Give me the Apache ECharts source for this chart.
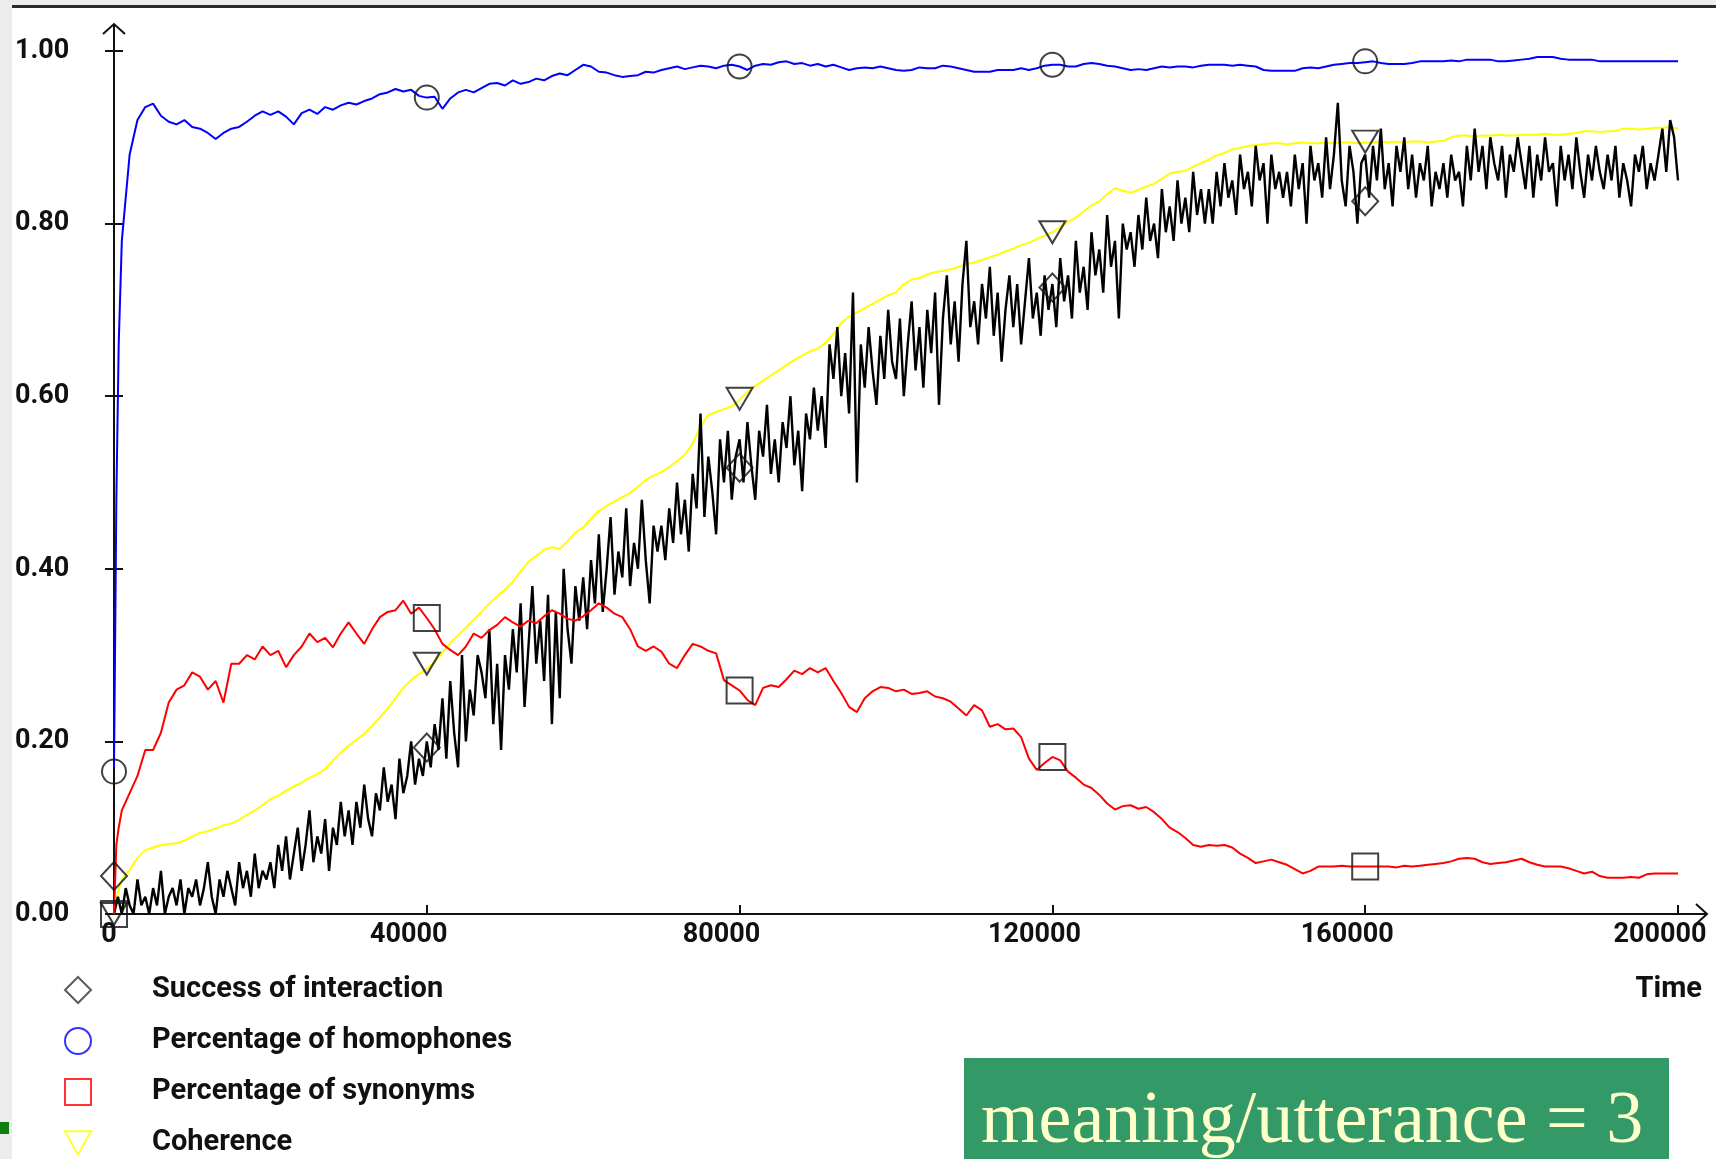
<!DOCTYPE html>
<html><head><meta charset="utf-8">
<script src="https://cdn.jsdelivr.net/npm/echarts@6/dist/echarts.min.js"></script>
<style>
html,body{margin:0;padding:0;background:#ececec;overflow:hidden;}
#bgw{position:absolute;left:12px;top:8px;width:1704px;height:1151px;background:#fff;}
#topline{position:absolute;left:12px;top:5px;width:1704px;height:3px;background:#2b2b2b;}
#chart{position:absolute;left:0;top:0;width:1716px;height:1159px;}
</style></head><body>
<div id="bgw"></div><div id="topline"></div><div id="chart"></div>
<script>
// ---------- DATA ----------
const seriesNames = ['Success of interaction','Percentage of homophones','Percentage of synonyms','Coherence'];
const xTickLabels = ['0','40000','80000','120000','160000','200000'];
const yTickLabels = ['0.00','0.20','0.40','0.60','0.80','1.00'];

// Success of interaction: one sample every 500 time steps, from 0 to 200000
const successStep = 500;
const successValues = [
0.00,0.02,0.00,0.03,0.01,0.00,0.04,0.01,0.02,0.00,0.03,0.01,0.05,0.00,0.02,0.03,0.01,0.04,0.00,0.03,
0.02,0.04,0.01,0.03,0.06,0.02,0.00,0.04,0.02,0.05,0.03,0.01,0.06,0.03,0.05,0.02,0.07,0.03,0.05,0.04,
0.06,0.03,0.08,0.05,0.09,0.04,0.07,0.10,0.05,0.08,0.12,0.06,0.09,0.07,0.11,0.05,0.10,0.08,0.13,0.09,
0.12,0.08,0.13,0.10,0.15,0.11,0.09,0.14,0.12,0.17,0.13,0.15,0.11,0.18,0.14,0.16,0.20,0.15,0.18,0.16,
0.20,0.17,0.22,0.19,0.25,0.18,0.27,0.21,0.17,0.30,0.20,0.26,0.23,0.30,0.28,0.25,0.33,0.22,0.29,0.19,
0.30,0.26,0.33,0.28,0.36,0.24,0.31,0.38,0.29,0.34,0.27,0.37,0.22,0.35,0.25,0.40,0.33,0.29,0.38,0.34,
0.39,0.33,0.41,0.36,0.44,0.35,0.40,0.46,0.37,0.42,0.39,0.47,0.38,0.43,0.40,0.48,0.41,0.36,0.45,0.42,
0.45,0.41,0.47,0.43,0.50,0.44,0.48,0.42,0.51,0.47,0.58,0.46,0.53,0.49,0.44,0.55,0.50,0.56,0.48,0.53,
0.55,0.50,0.57,0.52,0.48,0.56,0.53,0.59,0.51,0.55,0.50,0.57,0.54,0.60,0.52,0.56,0.49,0.58,0.55,0.61,
0.56,0.60,0.54,0.66,0.62,0.68,0.60,0.65,0.58,0.72,0.50,0.66,0.61,0.68,0.63,0.59,0.67,0.62,0.70,0.64,
0.62,0.69,0.60,0.66,0.71,0.63,0.68,0.61,0.70,0.65,0.72,0.59,0.69,0.74,0.66,0.71,0.64,0.73,0.78,0.68,
0.71,0.66,0.73,0.69,0.75,0.67,0.72,0.64,0.70,0.74,0.68,0.73,0.66,0.71,0.76,0.69,0.72,0.67,0.74,0.70,
0.73,0.68,0.76,0.71,0.74,0.69,0.78,0.72,0.75,0.70,0.79,0.74,0.77,0.72,0.81,0.75,0.78,0.69,0.80,0.77,
0.79,0.75,0.81,0.77,0.83,0.78,0.80,0.76,0.84,0.79,0.82,0.78,0.85,0.80,0.83,0.79,0.86,0.81,0.84,0.80,
0.84,0.80,0.86,0.82,0.87,0.83,0.85,0.81,0.88,0.84,0.86,0.82,0.89,0.85,0.87,0.80,0.88,0.84,0.86,0.83,
0.86,0.82,0.88,0.84,0.87,0.80,0.89,0.85,0.87,0.83,0.90,0.84,0.88,0.94,0.85,0.82,0.89,0.86,0.80,0.87,
0.88,0.83,0.89,0.85,0.91,0.84,0.87,0.82,0.89,0.86,0.90,0.84,0.88,0.83,0.87,0.85,0.89,0.82,0.86,0.84,
0.87,0.83,0.88,0.85,0.86,0.82,0.89,0.85,0.91,0.86,0.89,0.84,0.90,0.87,0.85,0.89,0.83,0.88,0.86,0.90,
0.87,0.84,0.89,0.83,0.88,0.85,0.90,0.86,0.87,0.82,0.89,0.85,0.88,0.84,0.90,0.86,0.83,0.88,0.85,0.89,
0.86,0.84,0.88,0.85,0.89,0.83,0.87,0.85,0.82,0.88,0.86,0.89,0.84,0.87,0.85,0.88,0.91,0.86,0.92,0.90,
0.85];

// Other curves: a few early samples, then one sample every 1000 steps (1000 .. 200000)
const curveStep = 1000;
const homophonesEarlyTime = [0, 150, 300, 600];
const homophonesEarly = [0.17, 0.32, 0.48, 0.66];
const homophonesValues = [
0.78,0.88,0.92,0.935,0.939,0.925,0.918,0.915,0.92,0.912,0.91,0.905,0.898,0.905,0.91,0.912,0.918,0.925,0.93,0.926,
0.93,0.924,0.915,0.928,0.932,0.927,0.935,0.932,0.937,0.94,0.938,0.942,0.945,0.95,0.952,0.956,0.953,0.955,0.948,0.946,
0.947,0.933,0.945,0.952,0.955,0.952,0.957,0.962,0.963,0.96,0.966,0.962,0.964,0.968,0.966,0.971,0.974,0.972,0.978,0.984,
0.982,0.976,0.975,0.972,0.97,0.971,0.972,0.976,0.975,0.978,0.98,0.982,0.979,0.981,0.983,0.982,0.98,0.983,0.984,0.982,
0.978,0.983,0.985,0.984,0.987,0.988,0.985,0.986,0.983,0.985,0.982,0.984,0.981,0.978,0.98,0.981,0.98,0.982,0.98,0.978,
0.977,0.978,0.981,0.98,0.98,0.983,0.982,0.98,0.978,0.976,0.976,0.976,0.978,0.978,0.978,0.98,0.978,0.98,0.983,0.984,
0.984,0.982,0.982,0.985,0.986,0.985,0.983,0.982,0.98,0.978,0.979,0.978,0.98,0.982,0.981,0.982,0.982,0.981,0.983,0.984,
0.984,0.984,0.983,0.984,0.983,0.982,0.978,0.977,0.977,0.977,0.977,0.98,0.981,0.98,0.982,0.984,0.985,0.986,0.986,0.987,
0.988,0.986,0.985,0.985,0.985,0.986,0.988,0.988,0.988,0.988,0.989,0.988,0.99,0.99,0.99,0.99,0.988,0.988,0.989,0.99,
0.991,0.993,0.993,0.993,0.991,0.99,0.99,0.99,0.99,0.988,0.988,0.988,0.988,0.988,0.988,0.988,0.988,0.988,0.988,0.988];

const synonymsEarlyTime = [0, 300, 600];
const synonymsEarly = [0.0, 0.08, 0.10];
const synonymsValues = [
0.12,0.14,0.16,0.19,0.19,0.21,0.245,0.26,0.265,0.28,0.275,0.26,0.27,0.245,0.29,0.29,0.30,0.295,0.31,0.30,
0.305,0.286,0.30,0.31,0.325,0.315,0.32,0.309,0.325,0.338,0.325,0.313,0.33,0.344,0.35,0.352,0.363,0.348,0.355,0.343,
0.33,0.313,0.306,0.30,0.31,0.325,0.32,0.329,0.335,0.344,0.338,0.333,0.34,0.337,0.345,0.352,0.348,0.342,0.34,0.345,
0.352,0.36,0.355,0.348,0.344,0.33,0.31,0.305,0.31,0.304,0.29,0.285,0.30,0.313,0.31,0.305,0.302,0.271,0.265,0.259,
0.248,0.242,0.262,0.265,0.263,0.272,0.282,0.278,0.285,0.28,0.285,0.27,0.256,0.24,0.234,0.25,0.258,0.263,0.262,0.258,
0.26,0.255,0.256,0.258,0.252,0.25,0.246,0.238,0.23,0.242,0.236,0.217,0.22,0.214,0.215,0.205,0.18,0.167,0.175,0.182,
0.178,0.165,0.158,0.15,0.146,0.138,0.128,0.121,0.125,0.126,0.122,0.124,0.118,0.11,0.10,0.095,0.088,0.08,0.078,0.08,
0.079,0.08,0.077,0.07,0.065,0.059,0.061,0.063,0.06,0.057,0.052,0.047,0.05,0.055,0.055,0.055,0.056,0.055,0.055,0.055,
0.055,0.055,0.055,0.054,0.056,0.055,0.056,0.057,0.058,0.059,0.061,0.064,0.065,0.064,0.06,0.058,0.059,0.06,0.062,0.064,
0.06,0.057,0.055,0.055,0.055,0.053,0.05,0.047,0.049,0.044,0.042,0.042,0.042,0.043,0.042,0.046,0.047,0.047,0.047,0.047];

const coherenceEarlyTime = [0, 500];
const coherenceEarly = [0.0, 0.025];
const coherenceValues = [
0.04,0.051,0.065,0.074,0.077,0.08,0.081,0.082,0.085,0.09,0.094,0.096,0.099,0.103,0.105,0.109,0.115,0.12,0.126,0.133,
0.137,0.143,0.148,0.152,0.158,0.162,0.168,0.178,0.187,0.195,0.202,0.209,0.218,0.228,0.238,0.25,0.262,0.271,0.278,0.284,
0.292,0.303,0.314,0.323,0.332,0.341,0.35,0.36,0.368,0.376,0.385,0.397,0.408,0.415,0.422,0.425,0.423,0.432,0.442,0.448,
0.458,0.467,0.473,0.478,0.483,0.488,0.495,0.503,0.508,0.512,0.518,0.525,0.532,0.545,0.565,0.578,0.582,0.585,0.588,0.596,
0.605,0.612,0.618,0.624,0.63,0.636,0.642,0.647,0.652,0.655,0.662,0.672,0.685,0.692,0.697,0.702,0.707,0.712,0.717,0.72,
0.73,0.735,0.737,0.741,0.744,0.745,0.747,0.75,0.753,0.755,0.758,0.761,0.764,0.768,0.771,0.775,0.778,0.782,0.786,0.79,
0.796,0.802,0.807,0.814,0.821,0.826,0.834,0.841,0.838,0.836,0.839,0.843,0.846,0.852,0.858,0.86,0.861,0.866,0.87,0.874,
0.879,0.882,0.886,0.888,0.89,0.891,0.892,0.893,0.893,0.892,0.893,0.894,0.893,0.893,0.894,0.893,0.894,0.894,0.893,0.894,
0.894,0.895,0.894,0.895,0.894,0.895,0.895,0.894,0.895,0.896,0.90,0.902,0.902,0.901,0.902,0.902,0.903,0.902,0.902,0.903,
0.903,0.903,0.904,0.903,0.903,0.904,0.905,0.907,0.907,0.906,0.907,0.907,0.91,0.91,0.909,0.91,0.911,0.911,0.912,0.91];

// Marker symbols placed every 40000 steps on each curve
const markerTime = [0, 40000, 80000, 120000, 160000];
const successMarkers = [0.044, 0.193, 0.517, 0.726, 0.826];
const homophoneMarkers = [0.165, 0.946, 0.982, 0.984, 0.988];
const synonymMarkers = [0.0, 0.343, 0.259, 0.182, 0.055];
const coherenceMarkers = [0.0, 0.29, 0.597, 0.79, 0.895];

const noteText = 'meaning/utterance = 3';
const axisName = 'Time';

// ---------- BUILD ----------
function pairs(early, earlyVals, vals, step) {
  const out = early.map((t, i) => [t, earlyVals[i]]);
  vals.forEach((v, i) => out.push([(i + 1) * step, v]));
  return out;
}
const successData = successValues.map((v, i) => [i * successStep, v]);
const homophonesData = pairs(homophonesEarlyTime, homophonesEarly, homophonesValues, curveStep);
const synonymsData = pairs(synonymsEarlyTime, synonymsEarly, synonymsValues, curveStep);
const coherenceData = pairs(coherenceEarlyTime, coherenceEarly, coherenceValues, curveStep);
const mk = arr => markerTime.map((t, i) => [t, arr[i]]);

const FONT = "Roboto,'Liberation Sans',sans-serif";
const TRI = 'path://M0,0L20,0L10,18Z';
const markerStyle = {color: 'rgba(0,0,0,0)', borderColor: '#111', borderWidth: 2};

const chart = echarts.init(document.getElementById('chart'), null, {renderer: 'canvas'});

const labelFont = {fontFamily: FONT, fontWeight: 'bold', fontSize: 27, color: '#111'};

const baseGraphic = [
  {type: 'rect', left: 964, top: 1058, shape: {width: 705, height: 110}, style: {fill: '#339966'}, z: 10},
  {type: 'text', left: 981, top: 1086, style: {text: noteText, font: '74px "Liberation Serif", "Times New Roman", serif', fill: '#ffffcc'}, z: 11},
  {type: 'rect', left: 0, top: 1122, shape: {width: 9, height: 12}, style: {fill: '#0f7f0f'}, z: 10},
  {type: 'text', right: 14, top: 975, style: {text: axisName, font: 'bold 29px ' + FONT, fill: '#111'}, z: 10}
];

const option = {
  animation: false,
  grid: {left: 114, right: 38, top: 51, bottom: 245},
  xAxis: [{
    type: 'value', min: 0, max: 200000, interval: 40000,
    axisLine: {lineStyle: {color: '#111', width: 2}},
    axisTick: {inside: true, length: 9, lineStyle: {color: '#111', width: 2}},
    splitLine: {show: false},
    axisLabel: Object.assign({
      margin: 8,
      formatter: v => {
        const i = Math.round(v / 40000);
        return i === 0 ? '{z|' + xTickLabels[0] + '}' : '{n|' + xTickLabels[i] + '}';
      },
      rich: {
        z: Object.assign({padding: [0, 10, 0, 0]}, labelFont),
        n: Object.assign({padding: [0, 36, 0, 0]}, labelFont)
      }
    }, labelFont)
  }],
  yAxis: [{
    type: 'value', min: 0, max: 1, interval: 0.2,
    axisLine: {show: true, lineStyle: {color: '#111', width: 2}},
    axisTick: {show: true, inside: false, length: 9, lineStyle: {color: '#111', width: 2}},
    splitLine: {show: false},
    axisLabel: Object.assign({
      margin: 99, align: 'left', padding: [0, 0, 6, 0],
      formatter: v => yTickLabels[Math.round(v / 0.2)]
    }, labelFont)
  }, {
    type: 'value', min: 0, max: 1, interval: 0.2, position: 'left',
    axisLine: {show: false},
    axisTick: {show: true, inside: true, length: 9, lineStyle: {color: '#111', width: 2}},
    axisLabel: {show: false},
    splitLine: {show: false}
  }],
  legend: {
    orient: 'vertical', left: 64, top: 975, padding: 0, itemGap: 21,
    itemWidth: 26, itemHeight: 26, selectedMode: false,
    textStyle: {fontFamily: FONT, fontWeight: 'bold', fontSize: 29, lineHeight: 30, color: '#111', padding: [0, 0, 0, 56]},
    data: [
      {name: seriesNames[0], icon: 'diamond', itemStyle: {color: '#fff', borderColor: '#333', borderWidth: 2}},
      {name: seriesNames[1], icon: 'circle', itemStyle: {color: '#fff', borderColor: '#0000ff', borderWidth: 2}},
      {name: seriesNames[2], icon: 'rect', itemStyle: {color: '#fff', borderColor: '#ff0000', borderWidth: 2}},
      {name: seriesNames[3], icon: TRI, itemStyle: {color: '#fff', borderColor: '#ffff00', borderWidth: 2}}
    ]
  },
  series: [
    {name: seriesNames[1], type: 'scatter', symbol: 'circle', symbolSize: 24, data: mk(homophoneMarkers), itemStyle: markerStyle, z: 2},
    {name: seriesNames[2], type: 'scatter', symbol: 'rect', symbolSize: 26, data: mk(synonymMarkers), itemStyle: markerStyle, z: 2},
    {name: seriesNames[3], type: 'scatter', symbol: TRI, symbolSize: [26, 22], data: mk(coherenceMarkers), itemStyle: markerStyle, z: 2},
    {name: seriesNames[0], type: 'scatter', symbol: 'diamond', symbolSize: [26, 28], data: mk(successMarkers), itemStyle: markerStyle, z: 2},
    {name: 'coherence-line', type: 'line', data: coherenceData, showSymbol: false, symbol: 'none', lineStyle: {color: '#ffff00', width: 2}, z: 2},
    {name: 'success-line', type: 'line', data: successData, showSymbol: false, symbol: 'none', lineStyle: {color: '#000', width: 2.4}, z: 2},
    {name: 'synonyms-line', type: 'line', data: synonymsData, showSymbol: false, symbol: 'none', lineStyle: {color: '#ff0000', width: 2}, z: 2},
    {name: 'homophones-line', type: 'line', data: homophonesData, showSymbol: false, symbol: 'none', lineStyle: {color: '#0000ff', width: 2}, z: 2}
  ],
  graphic: baseGraphic
};
chart.setOption(option);

// axis extensions with open arrow heads
const o = chart.convertToPixel({gridIndex: 0}, [0, 0]);
const e = chart.convertToPixel({gridIndex: 0}, [200000, 1]);
const ax = {stroke: '#111', lineWidth: 2, fill: null};
const arrows = [
  {type: 'polyline', shape: {points: [[o[0], e[1]], [o[0], e[1] - 27]]}, style: ax, z: 5},
  {type: 'polyline', shape: {points: [[o[0] - 11, e[1] - 17], [o[0], e[1] - 27], [o[0] + 11, e[1] - 17]]}, style: ax, z: 5},
  {type: 'polyline', shape: {points: [[e[0], o[1]], [e[0] + 29, o[1]]]}, style: ax, z: 5},
  {type: 'polyline', shape: {points: [[e[0] + 18, o[1] - 10], [e[0] + 29, o[1]], [e[0] + 18, o[1] + 10]]}, style: ax, z: 5}
];
chart.setOption({graphic: baseGraphic.concat(arrows)});
</script></body></html>
